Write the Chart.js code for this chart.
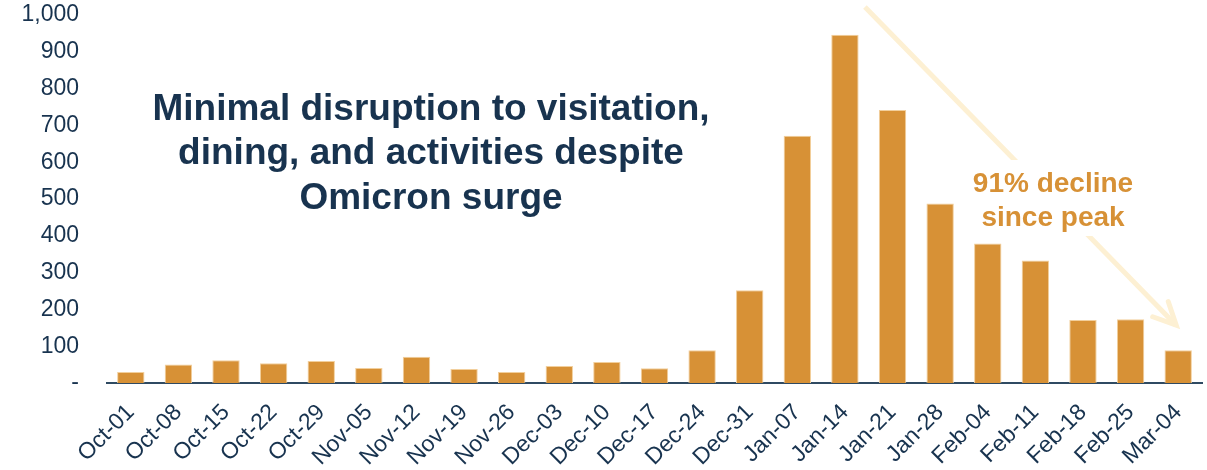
<!DOCTYPE html>
<html>
<head>
<meta charset="utf-8">
<script src="https://cdn.jsdelivr.net/npm/chart.js@4/dist/chart.umd.min.js"></script>
<style>
  html, body { margin: 0; padding: 0; background: #ffffff; }
  #wrap { width: 1207px; height: 470px; position: relative; }
</style>
</head>
<body>
<div id="wrap"><canvas id="c" width="1207" height="470"></canvas></div>
<script>
const categories = ["Oct-01","Oct-08","Oct-15","Oct-22","Oct-29","Nov-05","Nov-12","Nov-19","Nov-26","Dec-03","Dec-10","Dec-17","Dec-24","Dec-31","Jan-07","Jan-14","Jan-21","Jan-28","Feb-04","Feb-11","Feb-18","Feb-25","Mar-04"];
const values = [30, 50, 62, 54, 60, 41, 71, 38, 30, 46, 57, 40, 89, 252, 672, 946, 742, 488, 379, 333, 171, 173, 89];
const yTickValues = [0, 100, 200, 300, 400, 500, 600, 700, 800, 900, 1000];
const titleLines = ["Minimal disruption to visitation,", "dining, and activities despite", "Omicron surge"];
const noteLines = ["91% decline", "since peak"];

const NAVY = "#18334F";
const ORANGE = "#D79136";
const ARROW = "#FDF0D3";
const FONT = "'Liberation Sans', Arial, sans-serif";

const annotationPlugin = {
  id: "annotations",
  afterDatasetsDraw(chart) {
    const ctx = chart.ctx;
    const x = chart.scales.x, y = chart.scales.y;
    const peakIdx = values.indexOf(Math.max(...values));
    const lastIdx = values.length - 1;
    const x0 = x.getPixelForValue(peakIdx) + 20, y0 = y.getPixelForValue(1022);
    const x1 = x.getPixelForValue(lastIdx) - 2, y1 = y.getPixelForValue(157);
    ctx.save();
    ctx.strokeStyle = ARROW;
    ctx.lineWidth = 5;
    ctx.lineCap = "butt";
    ctx.beginPath();
    ctx.moveTo(x0, y0);
    ctx.lineTo(x1, y1);
    ctx.stroke();
    const ang = Math.atan2(y1 - y0, x1 - x0);
    const hl = 25, spread = 0.45;
    ctx.lineCap = "round";
    ctx.beginPath();
    ctx.moveTo(x1 - hl * Math.cos(ang - spread), y1 - hl * Math.sin(ang - spread));
    ctx.lineTo(x1, y1);
    ctx.lineTo(x1 - hl * Math.cos(ang + spread), y1 - hl * Math.sin(ang + spread));
    ctx.stroke();
    const nx = 1053, ny = 198, lh = 34;
    ctx.fillStyle = "#ffffff";
    ctx.fillRect(nx - 90, ny - 38, 180, 76);
    ctx.fillStyle = ORANGE;
    ctx.font = "bold 28px " + FONT;
    ctx.textAlign = "center";
    ctx.textBaseline = "alphabetic";
    noteLines.forEach((t, i) => ctx.fillText(t, nx, 192 + i * lh));
    ctx.fillStyle = NAVY;
    ctx.font = "bold 37px " + FONT;
    titleLines.forEach((t, i) => ctx.fillText(t, 431, 120 + i * 44.3));
    ctx.restore();
  }
};

new Chart(document.getElementById("c"), {
  type: "bar",
  data: {
    labels: categories,
    datasets: [{
      data: values,
      backgroundColor: ORANGE,
      borderColor: "#F2CF9C",
      borderWidth: { top: 1, left: 1, right: 1, bottom: 0 },
      borderSkipped: "bottom",
      categoryPercentage: 1.0,
      barPercentage: 0.575
    }]
  },
  options: {
    responsive: false,
    animation: false,
    devicePixelRatio: 1,
    layout: { padding: { top: 15, right: 5, left: 0, bottom: 0 } },
    plugins: { legend: { display: false }, tooltip: { enabled: false }, title: { display: false } },
    scales: {
      x: {
        grid: { display: false, drawTicks: false },
        border: { display: true, color: "#2F4A62", width: 2 },
        ticks: {
          color: NAVY,
          font: { family: FONT, size: 23 },
          minRotation: 45,
          maxRotation: 45,
          padding: 16,
          autoSkip: false
        },
        afterFit(scale) {
          scale.height = 470 - 383;
          scale.paddingLeft = 0; scale.paddingRight = 0;
          scale.paddingTop = 0; scale.paddingBottom = 0;
        }
      },
      y: {
        min: 0,
        max: 1000,
        afterBuildTicks(scale) { scale.ticks = yTickValues.map(v => ({ value: v })); },
        grid: { display: false, drawTicks: false },
        border: { display: false },
        ticks: {
          color: NAVY,
          font: { family: FONT, size: 23 },
          padding: 28,
          callback: v => v === 0 ? "-" : v.toLocaleString("en-US")
        },
        afterFit(scale) {
          scale.width = 107;
          scale.paddingTop = 0; scale.paddingBottom = 0;
          scale.paddingLeft = 0; scale.paddingRight = 0;
        }
      }
    }
  },
  plugins: [annotationPlugin]
});
</script>
</body>
</html>
